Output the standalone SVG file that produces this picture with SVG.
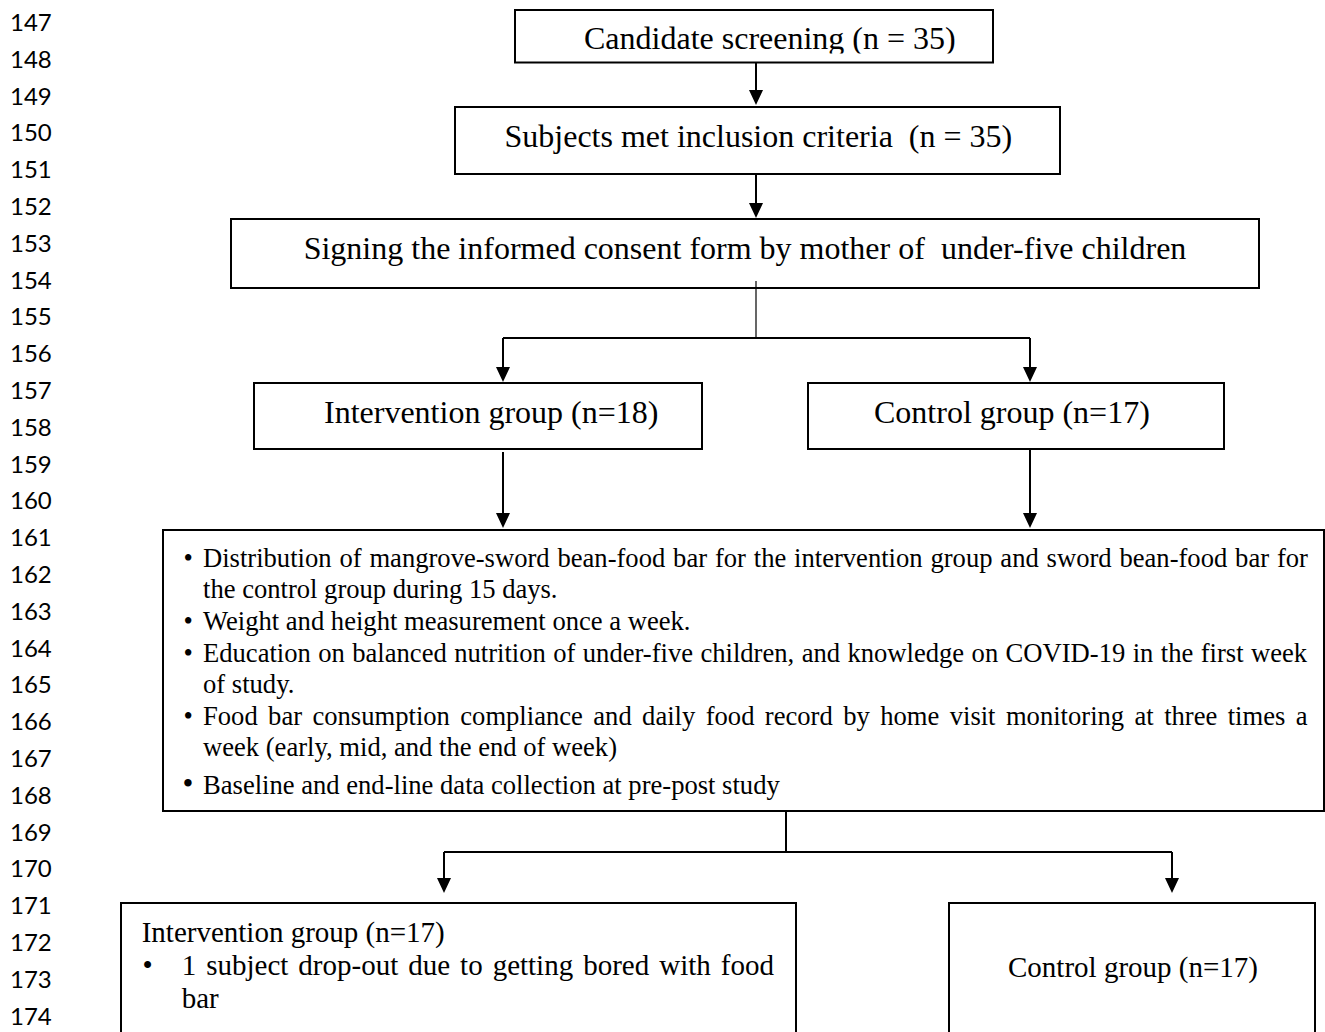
<svg xmlns="http://www.w3.org/2000/svg" width="1325" height="1032" viewBox="0 0 1325 1032">
<style>
.ln{font-family:Lato,"Open Sans","DejaVu Sans",sans-serif;font-size:24px;fill:#000}
.box{fill:#fff;stroke:#000;stroke-width:2}
.tx{font-family:"Liberation Serif","Times New Roman",serif;fill:#000}
.s32{font-size:32px}
.s27{font-size:26.6px}
.s29{font-size:29px}
.wire{fill:none;stroke:#000;stroke-width:2}
.thin{stroke-width:1.2}
.arr{marker-end:url(#ah)}
</style>
<defs>
<marker id="ah" markerUnits="userSpaceOnUse" markerWidth="15" markerHeight="14" refX="11" refY="7" orient="auto"><path d="M0,0 L15,7 L0,14 z" fill="#000"/></marker>
<clipPath id="c1"><rect x="516" y="11" width="476" height="42.5"/></clipPath>
</defs>
<rect width="1325" height="1032" fill="#fff"/>
<g id="line-numbers" class="ln">
<text x="10" y="31">147</text>
<text x="10" y="67.8">148</text>
<text x="10" y="104.6">149</text>
<text x="10" y="141.4">150</text>
<text x="10" y="178.2">151</text>
<text x="10" y="215">152</text>
<text x="10" y="251.8">153</text>
<text x="10" y="288.6">154</text>
<text x="10" y="325.4">155</text>
<text x="10" y="362.2">156</text>
<text x="10" y="399">157</text>
<text x="10" y="435.8">158</text>
<text x="10" y="472.6">159</text>
<text x="10" y="509.4">160</text>
<text x="10" y="546.2">161</text>
<text x="10" y="583">162</text>
<text x="10" y="619.8">163</text>
<text x="10" y="656.6">164</text>
<text x="10" y="693.4">165</text>
<text x="10" y="730.2">166</text>
<text x="10" y="767">167</text>
<text x="10" y="803.8">168</text>
<text x="10" y="840.6">169</text>
<text x="10" y="877.4">170</text>
<text x="10" y="914.2">171</text>
<text x="10" y="951">172</text>
<text x="10" y="987.8">173</text>
<text x="10" y="1024.6">174</text>
</g>
<g id="connectors">
<path class="wire arr" d="M756,62.5 V101"/>
<path class="wire arr" d="M756,174 V214"/>
<path class="wire thin" d="M756,281 V338"/>
<path class="wire" d="M503,338 H1030"/>
<path class="wire arr" d="M503,338 V378"/>
<path class="wire arr" d="M1030,338 V378"/>
<path class="wire arr" d="M503,452 V524"/>
<path class="wire arr" d="M1030,449 V524"/>
<path class="wire" d="M786,811 V852"/>
<path class="wire" d="M444,852 H1172"/>
<path class="wire arr" d="M444,852 V889"/>
<path class="wire arr" d="M1172,852 V889"/>
</g>
<g id="n1">
<rect class="box" x="515" y="10" width="478" height="52.5"/>
<text class="tx s32" x="584" y="48.5" clip-path="url(#c1)">Candidate screening (n = 35)</text>
</g>
<g id="n2">
<rect class="box" x="455" y="107" width="605" height="67"/>
<text class="tx s32" x="504.5" y="147" xml:space="preserve">Subjects met inclusion criteria  (n = 35)</text>
</g>
<g id="n3">
<rect class="box" x="231" y="219" width="1028" height="69"/>
<path class="wire thin" d="M756,281 V288"/>
<text class="tx s32" x="745" y="259" text-anchor="middle" xml:space="preserve">Signing the informed consent form by mother of  under-five children</text>
</g>
<g id="n4">
<rect class="box" x="254" y="383" width="448" height="66"/>
<text class="tx s32" x="324" y="423">Intervention group (n=18)</text>
</g>
<g id="n5">
<rect class="box" x="808" y="383" width="416" height="66"/>
<text class="tx s32" x="874" y="423">Control group (n=17)</text>
</g>
<g id="n6">
<rect class="box" x="163" y="530" width="1161" height="281"/>
<g class="tx s27">
<text x="183.5" y="567">•</text>
<text x="203" y="567" word-spacing="1.2">Distribution of mangrove-sword bean-food bar for the intervention group and sword bean-food bar for</text>
<text x="203" y="597.5">the control group during 15 days.</text>
<text x="183.5" y="630">•</text>
<text x="203" y="630">Weight and height measurement once a week.</text>
<text x="183.5" y="662">•</text>
<text x="203" y="662" word-spacing="0.78">Education on balanced nutrition of under-five children, and knowledge on COVID-19 in the first week</text>
<text x="203" y="693">of study.</text>
<text x="183.5" y="724.5">•</text>
<text x="203" y="724.5" word-spacing="3.77">Food bar consumption compliance and daily food record by home visit monitoring at three times a</text>
<text x="203" y="756">week (early, mid, and the end of week)</text>
<text x="182.5" y="794" font-size="31">•</text>
<text x="203" y="794">Baseline and end-line data collection at pre-post study</text>
</g>
</g>
<g id="n7">
<rect class="box" x="121" y="903" width="675" height="140"/>
<g class="tx s29">
<text x="141.7" y="941.7">Intervention group (n=17)</text>
<text x="142.5" y="975">•</text>
<text x="181.7" y="975" word-spacing="2.75">1 subject drop-out due to getting bored with food</text>
<text x="181.7" y="1008">bar</text>
</g>
</g>
<g id="n8">
<rect class="box" x="949" y="903" width="366" height="140"/>
<text class="tx s29" x="1133" y="977" text-anchor="middle">Control group (n=17)</text>
</g>
</svg>
